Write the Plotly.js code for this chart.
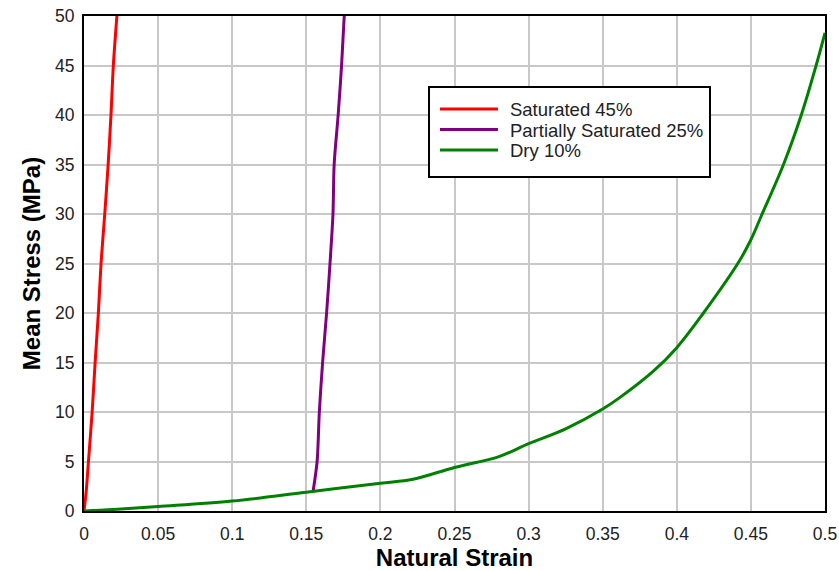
<!DOCTYPE html>
<html>
<head>
<meta charset="utf-8">
<script src="https://cdn.plot.ly/plotly-3.0.1.min.js"></script>
<style>html,body{margin:0;padding:0;background:#fff;}#chart{width:839px;height:571px;}</style>
</head>
<body>
<div id="chart"></div>
<script>
const satStrain = [0, 0.0015, 0.003, 0.0055, 0.0075, 0.0097, 0.0115, 0.014, 0.0163, 0.0182, 0.0198, 0.0222];
const satStress = [0, 2, 5, 10, 15, 20, 25, 30, 35, 40, 45, 50];

const partStrain = [0.1547, 0.1573, 0.1588, 0.161, 0.1637, 0.166, 0.168, 0.1688, 0.1715, 0.1738, 0.1756];
const partStress = [2.1, 5, 10, 15, 20, 25, 30, 35, 40, 45, 50];

const dryStrain = [0, 0.02, 0.05, 0.1, 0.15, 0.2, 0.222, 0.25, 0.28, 0.3, 0.325, 0.35, 0.361, 0.384, 0.4, 0.418, 0.442, 0.45, 0.457, 0.472, 0.484, 0.494, 0.5];
const dryStress = [0, 0.15, 0.45, 1.0, 1.9, 2.8, 3.2, 4.4, 5.5, 6.8, 8.3, 10.3, 11.4, 14.1, 16.5, 20, 25.2, 27.4, 29.8, 35, 40, 45, 48.3];

const seriesNames = ["Saturated 45%", "Partially Saturated 25%", "Dry 10%"];
const xTicks = [0, 0.05, 0.1, 0.15, 0.2, 0.25, 0.3, 0.35, 0.4, 0.45, 0.5];
const xTickText = ["0", "0.05", "0.1", "0.15", "0.2", "0.25", "0.3", "0.35", "0.4", "0.45", "0.5"];
const yTicks = [0, 5, 10, 15, 20, 25, 30, 35, 40, 45, 50];

const font = "Arial, 'Liberation Sans', sans-serif";

const traces = [
  {x: satStrain, y: satStress, name: seriesNames[0], mode: "lines", line: {color: "#ff0000", width: 3, shape: "spline", smoothing: 0.8}},
  {x: partStrain, y: partStress, name: seriesNames[1], mode: "lines", line: {color: "#800080", width: 3, shape: "spline", smoothing: 0.8}},
  {x: dryStrain, y: dryStress, name: seriesNames[2], mode: "lines", line: {color: "#008000", width: 3, shape: "spline", smoothing: 1}}
];

const layout = {
  width: 839, height: 571,
  margin: {l: 84, r: 14, t: 16, b: 60},
  paper_bgcolor: "#fff", plot_bgcolor: "#fff",
  font: {family: font, size: 17.5, color: "#222"},
  showlegend: true,
  legend: {
    x: 0.4642, y: 0.8586, xanchor: "left", yanchor: "top",
    bgcolor: "#fff", bordercolor: "#000", borderwidth: 2,
    font: {family: font, size: 18.5, color: "#222"},
    itemwidth: 70,
    tracegroupgap: 0
  },
  xaxis: {
    range: [0, 0.5], tickvals: xTicks, ticktext: xTickText,
    showgrid: true, gridcolor: "#c8c8c8", gridwidth: 2,
    zeroline: false, showline: true, linecolor: "#000", linewidth: 2, mirror: true,
    ticks: "", ticklabelstandoff: 6, tickfont: {family: font, size: 17.5, color: "#222"},
    title: {text: "<b>Natural Strain</b>", font: {family: font, size: 24, color: "#000"}, standoff: 8}
  },
  yaxis: {
    range: [0, 50], tickvals: yTicks,
    showgrid: true, gridcolor: "#c8c8c8", gridwidth: 2,
    zeroline: false, showline: true, linecolor: "#000", linewidth: 2, mirror: true,
    ticks: "", ticklabelstandoff: 4, tickfont: {family: font, size: 17.5, color: "#222"},
    title: {text: "<b>Mean Stress (MPa)</b>", font: {family: font, size: 24, color: "#000"}, standoff: 8}
  }
};

Plotly.newPlot("chart", traces, layout, {displayModeBar: false, staticPlot: true}).then(function (gd) {
  // lengthen legend sample lines to match the reference legend
  gd.querySelectorAll(".legend .legendlines path").forEach(function (p) {
    p.setAttribute("d", "M10,0h58");
  });
  // tighten legend row spacing to match the reference
  const items = gd.querySelectorAll(".legend .traces");
  let y0 = null;
  items.forEach(function (g, i) {
    const m = /translate\(\s*([-\d.]+)[ ,]+([-\d.]+)\s*\)/.exec(g.getAttribute("transform") || "");
    if (!m) return;
    if (y0 === null) y0 = parseFloat(m[2]);
    g.setAttribute("transform", "translate(" + m[1] + "," + (y0 + 2.5 + i * 20.5) + ")");
  });
  const bg = gd.querySelector(".legend rect.bg");
  if (bg) {
    const h = parseFloat(bg.getAttribute("height"));
    bg.setAttribute("height", String(h - 4));
  }
});
</script>
</body>
</html>
